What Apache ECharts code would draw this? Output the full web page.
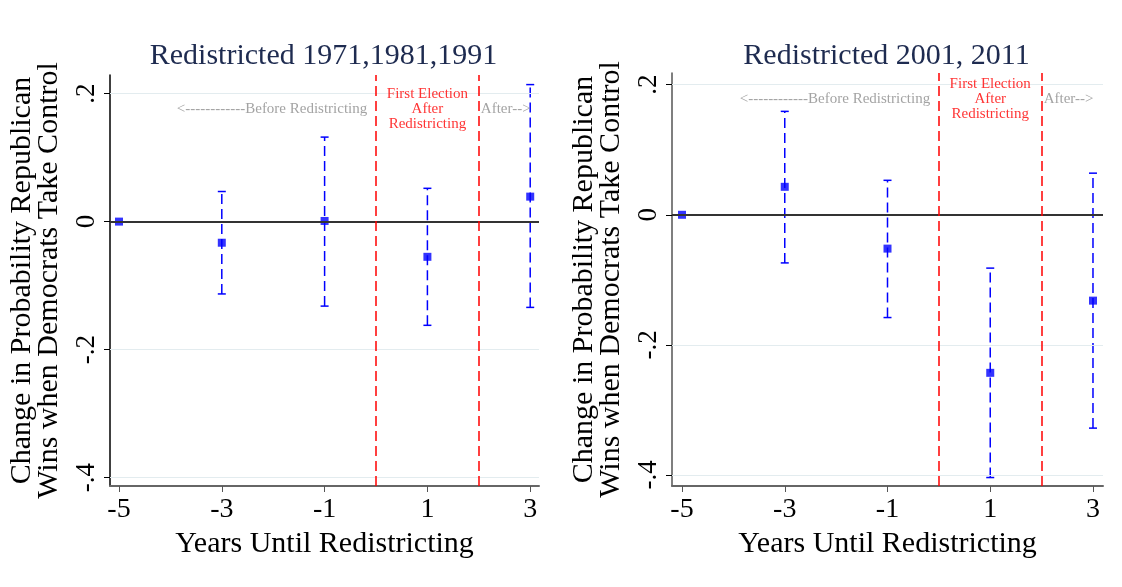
<!DOCTYPE html>
<html>
<head>
<meta charset="utf-8">
<script src="https://cdn.jsdelivr.net/npm/echarts@6/dist/echarts.min.js"></script>
<style>
html,body{margin:0;padding:0;background:#fff;}
#chart{width:1122px;height:587px;}
</style>
</head>
<body>
<div id="chart"></div>
<script>
// ---- data ----
const years = [-5, -3, -1, 1, 3];
const leftEst = [0, -0.033, 0.001, -0.055, 0.039];
const leftLo  = [null, -0.113, -0.132, -0.162, -0.134];
const leftHi  = [null, 0.047, 0.132, 0.052, 0.214];
const rightEst = [0, 0.043, -0.052, -0.243, -0.132];
const rightLo  = [null, -0.074, -0.158, -0.404, -0.328];
const rightHi  = [null, 0.159, 0.053, -0.082, 0.064];
const xTickValues = [-5, -3, -1, 1, 3];
const yTickValues = [-0.4, -0.2, 0, 0.2];
const yTickLabels = ['-.4', '-.2', '0', '.2'];
const panelTitles = ['Redistricted 1971,1981,1991', 'Redistricted 2001, 2011'];
const redLines = [0, 2];
const xAxisTitle = 'Years Until Redistricting';
const yAxisTitle = 'Change in Probability Republican\nWins when Democrats Take Control';
const beforeText = '<------------Before Redistricting';
const firstText = 'First Election\nAfter\nRedistricting';
const afterText = 'After-->';

const FONT = '"Liberation Serif", "DejaVu Serif", serif';
const chart = echarts.init(document.getElementById('chart'), null, {renderer: 'canvas'});

const grids = [
  {left: 110, top: 75, width: 429, height: 411},
  {left: 672, top: 73, width: 431, height: 413}
];
const xRanges = [[-5.175, 3.171], [-5.195, 3.195]];
const yRanges = [[-0.413, 0.229], [-0.417, 0.218]];
const yAxisColor = ['#000', '#555'];
const annotY = [0.176, 0.178];

const xAxes = [], yAxes = [], series = [], titles = [];
const datasets = [[leftEst, leftLo, leftHi], [rightEst, rightLo, rightHi]];

for (let i = 0; i < 2; i++) {
  titles.push({
    text: panelTitles[i],
    left: grids[i].left + grids[i].width / 2 - 6,
    textAlign: 'center',
    top: 36,
    textStyle: {fontFamily: FONT, fontSize: 30, fontWeight: 'normal', color: '#1e2b50'}
  });
  xAxes.push({
    type: 'value', gridIndex: i, min: xRanges[i][0], max: xRanges[i][1],
    name: xAxisTitle, nameLocation: 'middle', nameGap: 43,
    nameTextStyle: {fontFamily: FONT, fontSize: 30, color: '#000'},
    axisLine: {show: true, onZero: false, lineStyle: {color: '#666', width: 2}},
    axisTick: {show: true, length: 6, customValues: xTickValues, lineStyle: {color: '#555', width: 1}},
    axisLabel: {customValues: xTickValues, fontFamily: FONT, fontSize: 28, color: '#000', margin: 10},
    splitLine: {show: false}
  });
  yAxes.push({
    type: 'value', gridIndex: i, min: yRanges[i][0], max: yRanges[i][1],
    name: yAxisTitle, nameLocation: 'middle', nameGap: 47, nameRotate: 90,
    nameTextStyle: {fontFamily: FONT, fontSize: 30, color: '#000', lineHeight: 27},
    axisLine: {show: true, onZero: false, lineStyle: {color: yAxisColor[i], width: 1.5}},
    axisTick: {show: true, length: 6, customValues: yTickValues, lineStyle: {color: '#000', width: 1}},
    axisLabel: {
      customValues: yTickValues, rotate: 90, fontFamily: FONT, fontSize: 27, color: '#000', margin: 10,
      formatter: v => { const k = yTickValues.findIndex(t => Math.abs(t - v) < 1e-9); return k >= 0 ? yTickLabels[k] : ''; }
    },
    splitLine: {show: false}
  });

  const [est, lo, hi] = datasets[i];
  const ciData = [];
  years.forEach((y, k) => { if (lo[k] !== null) ciData.push([y, lo[k], hi[k]]); });

  // grid lines + zero line + red lines (drawn via an empty helper series)
  series.push({
    type: 'line', xAxisIndex: i, yAxisIndex: i, data: [], silent: true,
    markLine: {
      symbol: 'none', silent: true, label: {show: false}, animation: false,
      data: yTickValues.filter(v => v !== 0).map(v => ({yAxis: v, lineStyle: {color: '#e3ecef', width: 1, type: 'solid'}}))
        .concat([{yAxis: 0, lineStyle: {color: '#333', width: 2, type: 'solid'}}])
        .concat(redLines.map(v => ({xAxis: v, lineStyle: {color: '#ff0000', width: 1.5, type: [10, 5]}})))
    }
  });

  // error bars
  series.push({
    type: 'custom', xAxisIndex: i, yAxisIndex: i, data: ciData, z: 3,
    encode: {x: 0, y: [1, 2]},
    renderItem: (params, api) => {
      const x = api.value(0), l = api.value(1), h = api.value(2);
      const pl = api.coord([x, l]), ph = api.coord([x, h]);
      const cw = 4;
      const st = {stroke: '#0000ff', lineWidth: 1.5};
      return {
        type: 'group',
        children: [
          {type: 'line', shape: {x1: pl[0], y1: pl[1], x2: ph[0], y2: ph[1]}, style: Object.assign({lineDash: [10, 5]}, st)},
          {type: 'line', shape: {x1: pl[0] - cw, y1: pl[1], x2: pl[0] + cw, y2: pl[1]}, style: st},
          {type: 'line', shape: {x1: ph[0] - cw, y1: ph[1], x2: ph[0] + cw, y2: ph[1]}, style: st}
        ]
      };
    }
  });

  // point estimates
  series.push({
    type: 'scatter', xAxisIndex: i, yAxisIndex: i, z: 4,
    symbol: 'rect', symbolSize: 8, itemStyle: {color: '#0000ff'},
    data: years.map((y, k) => [y, est[k]])
  });

  // annotations
  const labStyle = {fontFamily: FONT, fontSize: 15, lineHeight: 15};
  series.push({
    type: 'scatter', xAxisIndex: i, yAxisIndex: i, symbolSize: 0, silent: true, z: 5,
    data: [
      {value: [-0.17, annotY[i]], label: Object.assign({show: true, position: 'left', distance: 0, color: '#8c8c8c', formatter: beforeText}, labStyle)},
      {value: [1, annotY[i]], label: Object.assign({show: true, position: 'inside', color: '#ff0000', align: 'center', formatter: firstText}, labStyle)},
      {value: [2.04, annotY[i]], label: Object.assign({show: true, position: 'right', distance: 0, color: '#8c8c8c', formatter: afterText}, labStyle)}
    ]
  });
}

chart.setOption({
  backgroundColor: '#fff',
  animation: false,
  title: titles,
  grid: grids,
  xAxis: xAxes,
  yAxis: yAxes,
  series: series
});
</script>
</body>
</html>
